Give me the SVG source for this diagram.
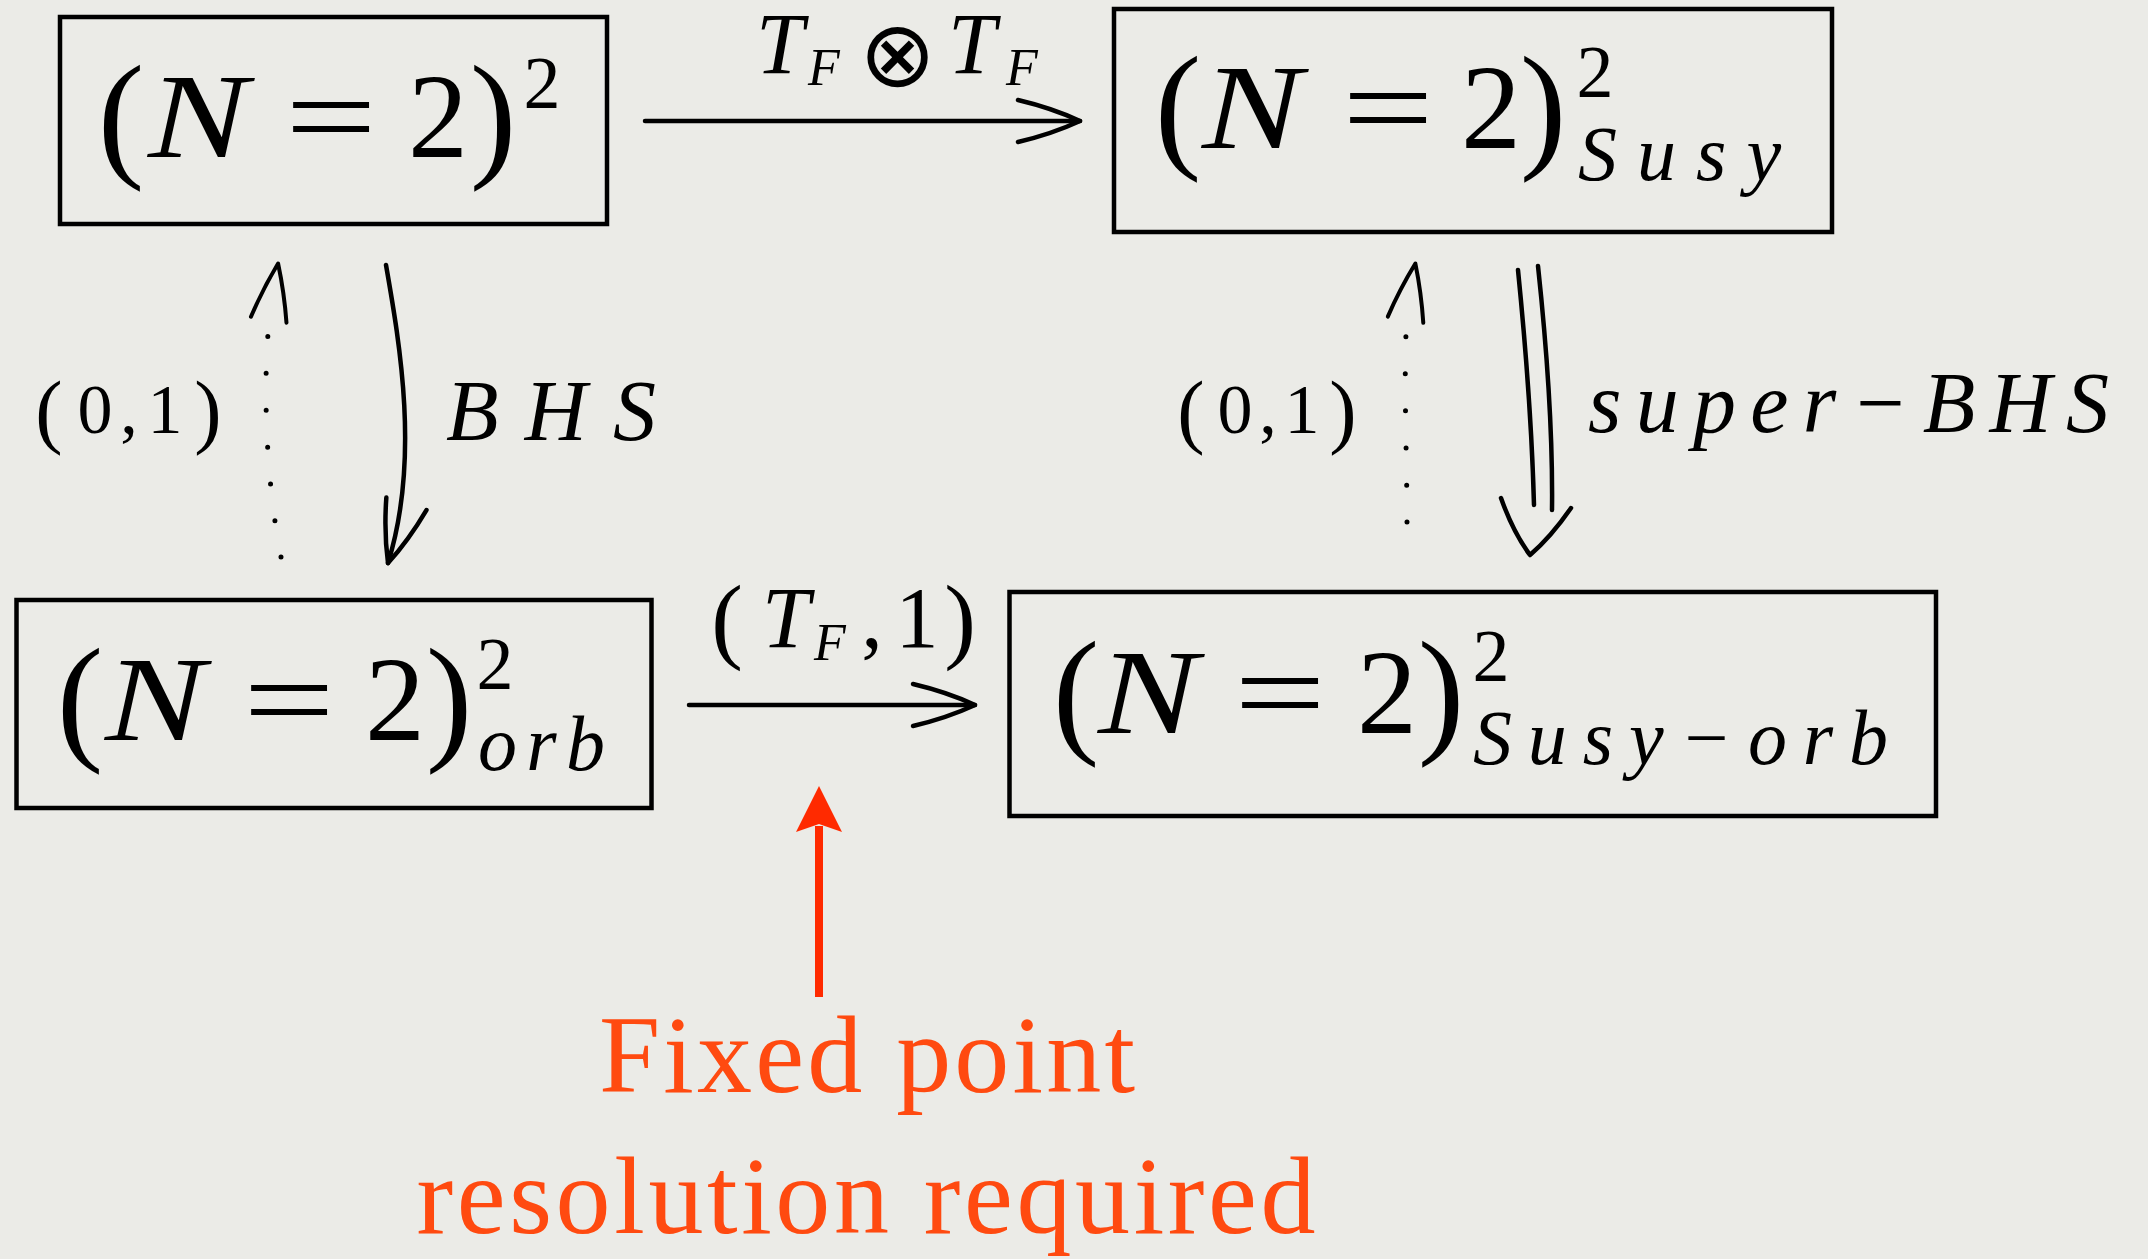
<svg xmlns="http://www.w3.org/2000/svg" width="2148" height="1259" viewBox="0 0 2148 1259">
<style>
.bg{fill:#EBEBE7}
.box{fill:none;stroke:#000;stroke-width:4.5}
.m{font-family:"Liberation Serif","Times New Roman",serif;fill:#000;text-anchor:middle}
.s{text-anchor:start}
.it{font-style:italic}
.big{font-size:120px}
.par{font-size:140px}
.sup{font-size:74px;font-style:normal}
.scr{font-size:78px;font-style:italic}
.lbl{font-size:86px}
.sub{font-size:52px;font-style:italic}
.op{font-family:"DejaVu Sans",sans-serif;font-size:92px;font-weight:200}
.edge{fill:none;stroke:#000;stroke-width:4.5;stroke-linecap:round}
.dots{fill:none;stroke:#000;stroke-width:5;stroke-linecap:round;stroke-dasharray:0 1}
.red{font-family:"Liberation Serif","Times New Roman",serif;font-size:110px;fill:#FF4A10;text-anchor:middle}
</style>
<defs>
<marker id="ah" markerUnits="userSpaceOnUse" orient="auto" markerWidth="10" markerHeight="10" refX="0" refY="0" style="overflow:visible">
<path d="M-62,-21 Q-28,-13 0,0 Q-28,13 -62,21" fill="none" stroke="#000" stroke-width="4.5" stroke-linecap="round" stroke-linejoin="round"/>
</marker>
<marker id="ahd" markerUnits="userSpaceOnUse" orient="auto" markerWidth="10" markerHeight="10" refX="0" refY="0" style="overflow:visible">
<path d="M-20,-18 Q9,-11 37,0 Q9,11 -20,18" fill="none" stroke="#000" stroke-width="4" stroke-linecap="round" stroke-linejoin="round"/>
</marker>
</defs>
<rect class="bg" x="0" y="0" width="2148" height="1259"/>

<g id="node-n2-squared">
<rect class="box" x="60" y="17" width="547" height="207"/>
<text class="m big"><tspan class="par" x="121" y="162">(</tspan><tspan class="par" x="493" y="162">)</tspan><tspan class="sup" x="542" y="108">2</tspan></text>
<text class="m big it" x="198" y="157" textLength="100" lengthAdjust="spacingAndGlyphs">N</text>
<text class="m big" x="331" y="157" textLength="92" lengthAdjust="spacingAndGlyphs">=</text>
<text class="m big" x="438" y="157">2</text>
</g>

<g id="node-n2-susy">
<rect class="box" x="1114" y="9" width="718" height="223"/>
<text class="m big"><tspan class="par" x="1178" y="153">(</tspan><tspan class="par" x="1543" y="153">)</tspan><tspan class="sup" x="1595" y="97">2</tspan></text>
<text class="m big it" x="1252" y="148" textLength="100" lengthAdjust="spacingAndGlyphs">N</text>
<text class="m big" x="1388" y="148" textLength="92" lengthAdjust="spacingAndGlyphs">=</text>
<text class="m big" x="1491" y="148">2</text>
<text class="m scr s" x="1578" y="180" textLength="203" lengthAdjust="spacing">Susy</text>
</g>

<g id="node-n2-orb">
<rect class="box" x="16.5" y="600" width="635" height="208"/>
<text class="m big"><tspan class="par" x="80" y="745">(</tspan><tspan class="par" x="449" y="745">)</tspan><tspan class="sup" x="495" y="689">2</tspan></text>
<text class="m big it" x="155" y="740" textLength="100" lengthAdjust="spacingAndGlyphs">N</text>
<text class="m big" x="289" y="740" textLength="92" lengthAdjust="spacingAndGlyphs">=</text>
<text class="m big" x="395" y="740">2</text>
<text class="m scr s" x="478" y="770" textLength="127" lengthAdjust="spacing">orb</text>
</g>

<g id="node-n2-susy-orb">
<rect class="box" x="1009.5" y="592" width="926.5" height="224"/>
<text class="m big"><tspan class="par" x="1076" y="738">(</tspan><tspan class="par" x="1441" y="738">)</tspan><tspan class="sup" x="1491" y="681">2</tspan></text>
<text class="m big it" x="1148" y="733" textLength="100" lengthAdjust="spacingAndGlyphs">N</text>
<text class="m big" x="1280" y="733" textLength="92" lengthAdjust="spacingAndGlyphs">=</text>
<text class="m big" x="1387" y="733">2</text>
<text class="m scr s" x="1473" y="764" textLength="415" lengthAdjust="spacing">Susy−orb</text>
</g>

<g id="connectors">
<g id="edge-tf-tf">
<path class="edge" d="M645,121 H1080" marker-end="url(#ah)"/>
<text class="m lbl it"><tspan x="780" y="73">T</tspan><tspan class="sub" x="824" y="85">F</tspan></text>
<text class="m op" x="897" y="86">⊗</text>
<text class="m lbl it"><tspan x="972" y="73">T</tspan><tspan class="sub" x="1022" y="85">F</tspan></text>
</g>
<g id="edge-bhs">
<path class="edge" d="M386,265 C400,345 420,460 388,563" marker-end="url(#ah)"/>
<text class="m lbl it s" x="446" y="440" textLength="210" lengthAdjust="spacing">BHS</text>
</g>
<g id="edge-01-left">
<path class="dots" pathLength="7" d="M281,557 C264,470 262,360 272,300" marker-end="url(#ahd)"/>
<text class="m"><tspan style="font-size:82px" x="49" y="438">(</tspan><tspan style="font-size:70px" x="95" y="433">0</tspan><tspan style="font-size:70px" x="129" y="433">,</tspan><tspan style="font-size:70px" x="165" y="433">1</tspan><tspan style="font-size:82px" x="208" y="438">)</tspan></text>
</g>
<g id="edge-tf-1">
<path class="edge" d="M689,705 H975" marker-end="url(#ah)"/>
<text class="m lbl"><tspan style="font-size:95px" x="727" y="651">(</tspan><tspan class="it" x="786" y="647">T</tspan><tspan class="sub" x="830" y="660">F</tspan><tspan x="872" y="647">,</tspan><tspan x="917" y="647">1</tspan><tspan style="font-size:95px" x="960" y="651">)</tspan></text>
</g>
<g id="edge-01-right">
<path class="dots" pathLength="6" d="M1407,522 C1407,450 1402,340 1409,300" marker-end="url(#ahd)"/>
<text class="m"><tspan style="font-size:82px" x="1191" y="438">(</tspan><tspan style="font-size:70px" x="1235" y="433">0</tspan><tspan style="font-size:70px" x="1268" y="433">,</tspan><tspan style="font-size:70px" x="1302" y="433">1</tspan><tspan style="font-size:82px" x="1343" y="438">)</tspan></text>
</g>
<g id="edge-super-bhs">
<path class="edge" d="M1518,270 C1526,350 1532,430 1534,505"/>
<path class="edge" d="M1538,266 C1547,350 1553,430 1552,510"/>
<path class="edge" d="M1501,498 Q1513,532 1530,555 Q1551,537 1571,508" stroke-linejoin="round"/>
<text class="m lbl it s" x="1588" y="432" textLength="521" lengthAdjust="spacing">super−BHS</text>
</g>
</g>

<g id="annotation">
<path d="M819,997 V826" fill="none" stroke="#FF2A00" stroke-width="8"/>
<path d="M819,786 L842,832 L819,824 L796,832 Z" fill="#FF2A00"/>
<text class="red" x="867" y="1092" textLength="536" lengthAdjust="spacing">Fixed point</text>
<text class="red" x="866" y="1233" textLength="899" lengthAdjust="spacing">resolution required</text>
</g>
</svg>
